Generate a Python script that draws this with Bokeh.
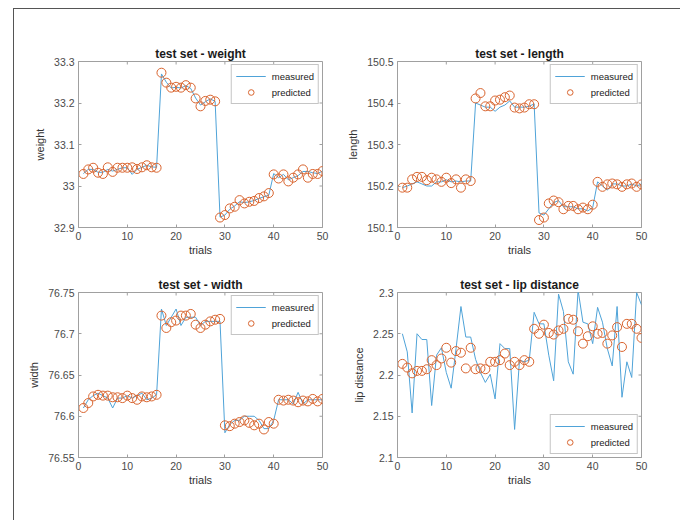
import math
from bokeh.plotting import figure
from bokeh.layouts import gridplot
from bokeh.models import FixedTicker, Range1d, Legend, LegendItem, ColumnDataSource
from bokeh.embed import file_html
from bokeh.resources import INLINE

trials = list(range(1, 51))
x_ticks = [0, 10, 20, 30, 40, 50]

weight_pred = [33.029, 33.040, 33.044, 33.032, 33.029, 33.045, 33.034, 33.044, 33.044, 33.044,
               33.045, 33.041, 33.045, 33.050, 33.045, 33.044, 33.273, 33.249, 33.237, 33.239,
               33.237, 33.243, 33.237, 33.211, 33.192, 33.205, 33.208, 33.204, 32.924, 32.930,
               32.946, 32.950, 32.966, 32.958, 32.962, 32.964, 32.971, 32.975, 32.983, 33.028,
               33.018, 33.028, 33.011, 33.020, 33.028, 33.040, 33.020, 33.029, 33.029, 33.036]
weight_meas = [33.030, 33.040, 33.040, 33.033, 33.033, 33.040, 33.036, 33.040, 33.044, 33.044,
               33.028, 33.040, 33.045, 33.050, 33.046, 33.045, 33.270, 33.250, 33.236, 33.238,
               33.236, 33.242, 33.235, 33.212, 33.195, 33.203, 33.210, 33.204, 32.925, 32.930,
               32.944, 32.952, 32.962, 32.960, 32.962, 32.965, 32.970, 32.974, 32.978, 33.030,
               33.020, 33.028, 33.015, 33.020, 33.025, 33.035, 33.035, 33.032, 33.030, 33.036]

length_pred = [150.196, 150.196, 150.216, 150.222, 150.222, 150.214, 150.220, 150.216, 150.210, 150.220,
               150.207, 150.216, 150.196, 150.216, 150.212, 150.411, 150.424, 150.392, 150.392, 150.406,
               150.408, 150.414, 150.418, 150.389, 150.387, 150.389, 150.397, 150.397, 150.118, 150.124,
               150.158, 150.165, 150.161, 150.144, 150.152, 150.152, 150.144, 150.148, 150.144, 150.155,
               150.210, 150.198, 150.204, 150.206, 150.204, 150.198, 150.204, 150.206, 150.198, 150.204]
length_meas = [150.196, 150.200, 150.205, 150.210, 150.205, 150.200, 150.200, 150.210, 150.210, 150.215,
               150.210, 150.212, 150.210, 150.212, 150.212, 150.400, 150.395, 150.390, 150.390, 150.380,
               150.390, 150.395, 150.405, 150.390, 150.390, 150.390, 150.392, 150.398, 150.135, 150.130,
               150.145, 150.160, 150.165, 150.150, 150.150, 150.150, 150.145, 150.145, 150.140, 150.148,
               150.210, 150.200, 150.190, 150.205, 150.205, 150.200, 150.200, 150.205, 150.200, 150.205]

width_pred = [76.610, 76.616, 76.624, 76.626, 76.625, 76.625, 76.623, 76.623, 76.622, 76.625,
              76.622, 76.620, 76.624, 76.623, 76.624, 76.626, 76.722, 76.707, 76.714, 76.716,
              76.722, 76.722, 76.724, 76.711, 76.707, 76.711, 76.715, 76.717, 76.718, 76.589,
              76.588, 76.591, 76.593, 76.595, 76.592, 76.589, 76.591, 76.584, 76.593, 76.591,
              76.620, 76.619, 76.620, 76.619, 76.617, 76.619, 76.618, 76.621, 76.618, 76.621]
width_meas = [76.610, 76.620, 76.625, 76.628, 76.625, 76.622, 76.610, 76.622, 76.622, 76.625,
              76.622, 76.625, 76.628, 76.620, 76.622, 76.626, 76.730, 76.710, 76.720, 76.730,
              76.710, 76.720, 76.720, 76.720, 76.710, 76.715, 76.715, 76.715, 76.715, 76.580,
              76.590, 76.595, 76.595, 76.600, 76.600, 76.600, 76.595, 76.585, 76.585, 76.595,
              76.620, 76.620, 76.620, 76.615, 76.629, 76.615, 76.620, 76.620, 76.620, 76.620]

lip_pred = [2.2135, 2.209, 2.202, 2.205, 2.205, 2.207, 2.218, 2.212, 2.220, 2.233,
            2.215, 2.229, 2.227, 2.208, 2.233, 2.207, 2.208, 2.207, 2.216, 2.216,
            2.218, 2.226, 2.212, 2.216, 2.212, 2.218, 2.216, 2.256, 2.250, 2.261,
            2.251, 2.249, 2.254, 2.256, 2.268, 2.267, 2.253, 2.238, 2.247, 2.259,
            2.250, 2.251, 2.238, 2.248, 2.258, 2.234, 2.262, 2.262, 2.256, 2.245]
lip_meas = [2.250, 2.228, 2.154, 2.250, 2.243, 2.243, 2.163, 2.224, 2.233, 2.203,
            2.184, 2.232, 2.283, 2.246, 2.246, 2.219, 2.203, 2.191, 2.201, 2.171,
            2.238, 2.232, 2.232, 2.134, 2.218, 2.216, 2.218, 2.276, 2.262, 2.262,
            2.224, 2.193, 2.298, 2.277, 2.216, 2.201, 2.303, 2.264, 2.262, 2.238,
            2.282, 2.264, 2.232, 2.211, 2.283, 2.173, 2.216, 2.197, 2.300, 2.285]

weight_ticks = [32.9, 33.0, 33.1, 33.2, 33.3]
weight_labels = ["32.9", "33", "33.1", "33.2", "33.3"]
length_ticks = [150.1, 150.2, 150.3, 150.4, 150.5]
length_labels = ["150.1", "150.2", "150.3", "150.4", "150.5"]
width_ticks = [76.55, 76.6, 76.65, 76.7, 76.75]
width_labels = ["76.55", "76.6", "76.65", "76.7", "76.75"]
lip_ticks = [2.1, 2.15, 2.2, 2.25, 2.3]
lip_labels = ["2.1", "2.15", "2.2", "2.25", "2.3"]

FONT = "Liberation Sans"
AX = "#a0a0a0"
TXT = "#4a4a4a"
LINE_C = "#4fa3d8"
MARK_C = "#D9642E"


def make(title, ylabel, pred, meas, ticks, labels, legend_loc, left, right, top, bottom, fh):
    x0, x1 = x_ticks[0], x_ticks[-1]
    y0, y1 = ticks[0], ticks[-1]
    p = figure(frame_width=244, frame_height=fh, output_backend="svg", toolbar_location=None,
               x_range=Range1d(x0, x1), y_range=Range1d(y0, y1),
               min_border_left=left, min_border_right=right, min_border_top=top,
               min_border_bottom=bottom)
    p.xgrid.visible = False
    p.ygrid.visible = False
    p.outline_line_color = AX
    p.background_fill_color = "white"
    p.border_fill_color = "white"
    p.title.text = title
    p.title.align = "center"
    p.title.text_font = FONT
    p.title.text_font_size = "12px"
    p.title.text_font_style = "bold"
    p.title.text_color = "#1a1a1a"
    p.title.standoff = 2

    # inward ticks on the top and right edges of the box
    p.ray(x=[x1] * len(ticks), y=ticks, length=3, angle=math.pi, length_units="screen",
          line_color=AX, line_width=1)
    p.ray(x=x_ticks, y=[y1] * len(x_ticks), length=3, angle=-math.pi / 2, length_units="screen",
          line_color=AX, line_width=1)

    src = ColumnDataSource(dict(t=trials, pred=pred, meas=meas))
    ln = p.line("t", "meas", source=src, line_color=LINE_C, line_width=1)
    sc = p.scatter("t", "pred", source=src, marker="circle", size=9, fill_color=None,
                   line_color=MARK_C, line_width=1)

    p.xaxis.ticker = FixedTicker(ticks=x_ticks)
    p.yaxis.ticker = FixedTicker(ticks=ticks)
    p.yaxis.major_label_overrides = {t: l for t, l in zip(ticks, labels)}
    for ax in p.xaxis + p.yaxis:
        ax.axis_line_color = AX
        ax.major_tick_line_color = AX
        ax.major_tick_in = 3
        ax.major_tick_out = 0
        ax.minor_tick_line_color = None
        ax.major_label_text_font = FONT
        ax.major_label_text_color = TXT
        ax.major_label_text_font_size = "10.5px"
        ax.major_label_standoff = 4
        ax.axis_label_text_font = FONT
        ax.axis_label_text_font_size = "11px"
        ax.axis_label_text_font_style = "normal"
        ax.axis_label_text_color = "#333333"
    p.xaxis.axis_label = "trials"
    p.xaxis.axis_label_standoff = 1
    p.yaxis.axis_label = ylabel
    p.yaxis.axis_label_standoff = 5

    leg = Legend(items=[LegendItem(label="measured", renderers=[ln]),
                        LegendItem(label="predicted", renderers=[sc])],
                 location=legend_loc)
    leg.label_text_font = FONT
    leg.label_text_font_size = "9.5px"
    leg.label_text_color = "#222222"
    leg.glyph_width = 30
    leg.glyph_height = 14
    leg.label_height = 14
    leg.spacing = 2
    leg.padding = 4
    leg.margin = 3
    leg.label_standoff = 6
    leg.border_line_color = "#8c8c8c"
    leg.border_line_width = 1
    leg.background_fill_alpha = 1
    p.add_layout(leg, "center")
    return p


p1 = make("test set - weight", "weight", weight_pred, weight_meas, weight_ticks, weight_labels,
          "top_right", 64, 11, 52, 34, 166)
p2 = make("test set - length", "length", length_pred, length_meas, length_ticks, length_labels,
          "top_right", 64, 39, 52, 34, 166)
p3 = make("test set - width", "width", width_pred, width_meas, width_ticks, width_labels,
          "top_right", 64, 11, 31, 63, 165)
p4 = make("test set - lip distance", "lip distance", lip_pred, lip_meas, lip_ticks, lip_labels,
          "bottom_right", 64, 39, 31, 63, 165)

grid = gridplot([[p1, p2], [p3, p4]], toolbar_location=None)
grid.margin = (8, 0, 0, 13)
grid.styles = {"border-left": "1px solid #555555", "border-top": "1px solid #555555"}

open("out.html", "w").write(file_html(grid, INLINE))
